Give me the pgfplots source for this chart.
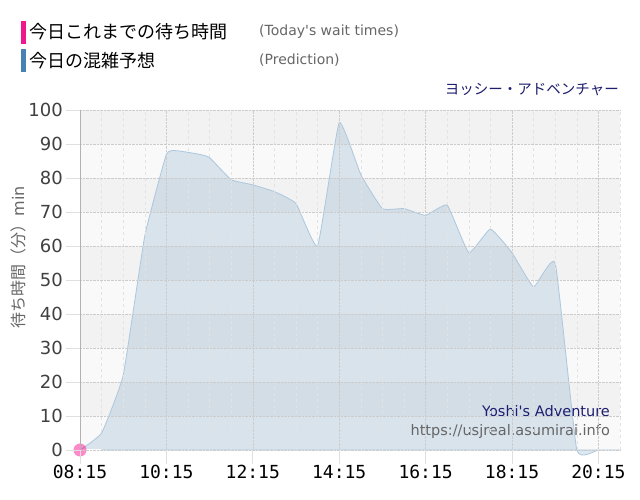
\documentclass[border=0pt]{standalone}
\usepackage{fontspec}
\setmainfont{DejaVu Sans}
\newfontfamily\cjk{Noto Sans CJK JP}
\newfontfamily\mono{DejaVu Sans Mono}
\usepackage{pgfplots}
\pgfplotsset{compat=1.18}
\definecolor{bandA}{HTML}{F2F2F2}
\definecolor{bandB}{HTML}{F9F9F9}
\definecolor{legpink}{HTML}{F0168C}
\definecolor{steel}{HTML}{4682B4}
\definecolor{mnavy}{HTML}{1E1E70}
\definecolor{txtgray}{HTML}{666666}
\definecolor{dpink}{HTML}{FF1493}
\begin{document}
\begin{tikzpicture}
\fill[white] (0bp,0bp) rectangle (640bp,500bp);
% legend
\fill[legpink] (20.5bp,456bp) rectangle (25.5bp,479bp);
\fill[steel] (20.5bp,428bp) rectangle (25.5bp,450.5bp);
\node[anchor=west, inner sep=0, font=\cjk\fontsize{18bp}{20bp}\selectfont] at (29bp,468bp) {今日これまでの待ち時間};
\node[anchor=west, inner sep=0, font=\cjk\fontsize{18bp}{20bp}\selectfont] at (29bp,439.5bp) {今日の混雑予想};
\node[anchor=west, inner sep=0, text=txtgray, font=\fontsize{14bp}{16bp}\selectfont] at (259bp,468.5bp) {(Today\textquotesingle s wait times)};
\node[anchor=west, inner sep=0, text=txtgray, font=\fontsize{14bp}{16bp}\selectfont] at (259bp,439.5bp) {(Prediction)};
\node[anchor=east, inner sep=0, text=mnavy, font=\cjk\fontsize{14.5bp}{16bp}\selectfont] at (619bp,410bp) {ヨッシー・アドベンチャー};
% y label
\node[rotate=90, inner sep=0, text=txtgray, font=\fontsize{16bp}{18bp}\selectfont] at (18bp,243bp) {{\cjk 待ち時間（分）}min};
\begin{axis}[
  at={(80bp,50bp)}, anchor=south west,
  scale only axis, width=540bp, height=340bp,
  set layers, axis on top,
  clip=false,
  xmin=8.25, xmax=20.75, ymin=0, ymax=100,
  axis x line*=bottom, axis y line*=left,
  x axis line style={draw=none},
  y axis line style={draw=gray!60},
  xtick={8.25,10.25,12.25,14.25,16.25,18.25,20.25},
  xticklabels={08:15,10:15,12:15,14:15,16:15,18:15,20:15},
  minor xtick={8.75,9.25,9.75,10.75,11.25,11.75,12.75,13.25,13.75,14.75,15.25,15.75,16.75,17.25,17.75,18.75,19.25,19.75,20.75},
  ytick={0,10,...,100},
  tick align=outside,
  major tick length=14bp, minor tick length=0bp,
  tick style={draw=gray!25, line width=0.8bp},
  xmajorgrids, ymajorgrids, xminorgrids,
  major grid style={densely dotted, draw=gray!40, line width=0.6bp},
  minor grid style={dashed, draw=gray!22, line width=0.6bp},
  /pgf/number format/assume math mode=true,
  yticklabel style={font=\fontsize{18bp}{20bp}\selectfont, text=black!75, inner sep=0pt, xshift=-3bp},
  xticklabel style={font=\mono\fontsize{18bp}{20bp}\selectfont, text=black, inner sep=0pt, yshift=-1bp},
]
% background bands
\fill[bandA] (axis cs:8.25,90) rectangle (axis cs:20.75,100);
\fill[bandB] (axis cs:8.25,80) rectangle (axis cs:20.75,90);
\fill[bandA] (axis cs:8.25,70) rectangle (axis cs:20.75,80);
\fill[bandB] (axis cs:8.25,60) rectangle (axis cs:20.75,70);
\fill[bandA] (axis cs:8.25,50) rectangle (axis cs:20.75,60);
\fill[bandB] (axis cs:8.25,40) rectangle (axis cs:20.75,50);
\fill[bandA] (axis cs:8.25,30) rectangle (axis cs:20.75,40);
\fill[bandB] (axis cs:8.25,20) rectangle (axis cs:20.75,30);
\fill[bandA] (axis cs:8.25,10) rectangle (axis cs:20.75,20);
\fill[bandB] (axis cs:8.25,0) rectangle (axis cs:20.75,10);
\addplot[draw=steel!45, line width=0.8bp, fill=steel, fill opacity=0.18, smooth, tension=0.22] table {
x y
8.25 0
8.75 5
9.25 22
9.75 63
10.25 87
10.5 88
11.0 87
11.25 86
11.75 79.5
12.25 78
12.75 76
13.25 72.5
13.75 60
14.25 96.3
14.75 81
15.25 71
15.75 71
16.25 69
16.75 72
17.25 58
17.75 65
18.25 58
18.75 48
19.25 55
19.75 0
20.25 0
20.75 0
} \closedcycle;
\addplot[white, line width=1.5bp] coordinates {(8.25,0) (8.73,0)};
\addplot[on layer=axis foreground, only marks, mark=*, mark size=6.5bp, draw opacity=0, fill=dpink, fill opacity=0.5] coordinates {(8.25,0)};
\node[anchor=east, inner sep=0, text=mnavy, font=\fontsize{14.5bp}{16bp}\selectfont] at (axis cs:20.52,11.5) {Yoshi\textquotesingle s Adventure};
\node[anchor=east, inner sep=0, text=txtgray, font=\fontsize{14.5bp}{16bp}\selectfont] at (axis cs:20.52,5.4) {https://usjreal.asumirai.info};
\end{axis}
\end{tikzpicture}
\end{document}
